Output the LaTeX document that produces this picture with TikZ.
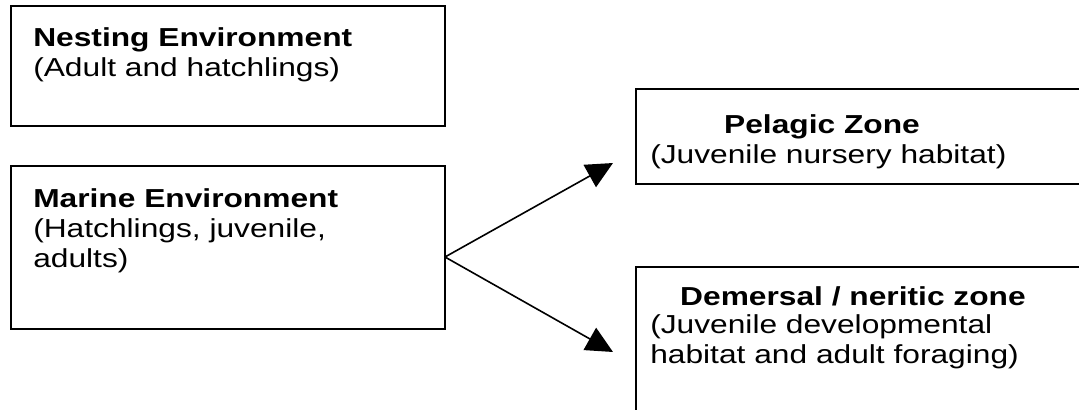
\documentclass[tikz,border=0pt]{standalone}
\usepackage{fontspec}
\setmainfont{Liberation Sans}[FakeStretch=1.22]
\usetikzlibrary{arrows.meta,positioning}

\tikzset{
  box/.style={draw, line width=1.5pt, inner sep=0pt, outer sep=0pt, anchor=north west},
  title/.style={inner sep=0pt, font=\fontsize{19.5}{22.5}\selectfont\bfseries},
  detail/.style={inner sep=0pt, anchor=base west, align=left, font=\fontsize{19.5}{22.5}\selectfont},
  link/.style={line width=1.2pt, -{Triangle[length=20pt,width=19pt]}}
}

\begin{document}
\begin{tikzpicture}[x=0.75pt,y=-0.75pt]
  \useasboundingbox (0,0) rectangle (1079,410);
  \clip (0,0) rectangle (1079,410);

  % boxes
  \node[box, minimum width=325.5pt, minimum height=90pt] (nest) at (11,6) {};
  \node[box, minimum width=325.5pt, minimum height=122.25pt] (marine) at (11,166) {};
  \node[box, minimum width=360pt, minimum height=71.25pt] (pelagic) at (636,89) {};
  \node[box, minimum width=360pt, minimum height=120pt] (demersal) at (636,267) {};

  % texts (detail nodes sit on their last baseline)
  \node[title, anchor=base west] (nestTitle) at (33,47) {Nesting Environment};
  \node[detail] (nestText) at (33,77) {(Adult and hatchlings)};

  \node[title, anchor=base west] (marineTitle) at (33,207) {Marine Environment};
  \node[detail] (marineText) at (33,267) {(Hatchlings, juvenile,\\adults)};

  \node[title, anchor=base] (pelagicTitle) at (822,133) {Pelagic Zone};
  \node[detail] (pelagicText) at (650,163) {(Juvenile nursery habitat)};

  \node[title, anchor=base] (demersalTitle) at (853,305) {Demersal / neritic zone};
  \node[detail] (demersalText) at (650,363) {(Juvenile developmental\\habitat and adult foraging)};

  % arrows
  \coordinate (fork) at (445,257);
  \coordinate (toPelagic) at (613,163);
  \coordinate (toDemersal) at (613,352);
  \draw[link] (fork) -- (toPelagic);
  \draw[link] (fork) -- (toDemersal);
\end{tikzpicture}
\end{document}
